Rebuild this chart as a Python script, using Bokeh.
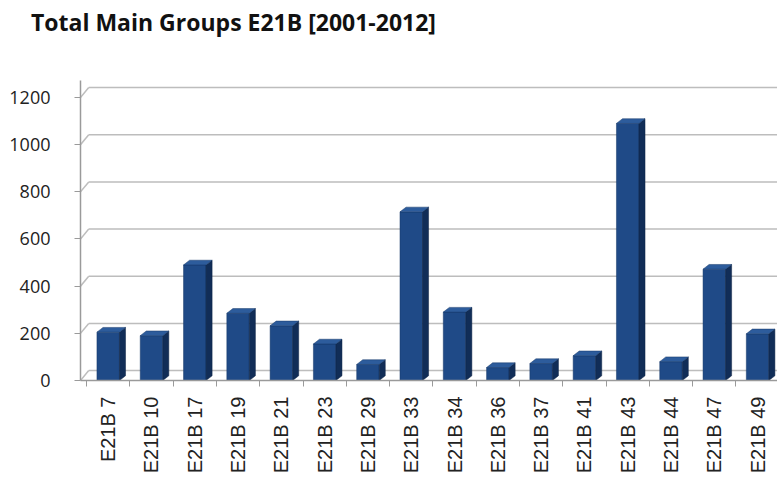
import numpy as np
from bokeh.plotting import figure
from bokeh.models import FixedTicker, Range1d, Div
from bokeh.layouts import column
from bokeh.embed import file_html
from bokeh.resources import INLINE

categories = ["E21B 7", "E21B 10", "E21B 17", "E21B 19", "E21B 21", "E21B 23",
              "E21B 29", "E21B 33", "E21B 34", "E21B 36", "E21B 37", "E21B 41",
              "E21B 43", "E21B 44", "E21B 47", "E21B 49"]
values = [205, 190, 490, 285, 232, 155, 68, 715, 290, 55, 72, 105, 1090, 80, 472, 198]
y_ticks = [0, 200, 400, 600, 800, 1000, 1200]
title_text = "Total Main Groups E21B [2001-2012]"

n = len(categories)
xs = np.arange(n)
vals = np.array(values, dtype=float)

# 3D look parameters (style only)
half_w = 0.26
dx = 0.14
dy = 20.0
wall_dx = 0.19
wall_dy = 42.0

x_start, x_end = -0.64, 15.46
y_end = 1272.0

title = Div(text=title_text, width=777, height=44, margin=(0, 0, 0, 0),
            styles={"font-family": "Open Sans", "font-weight": "bold", "font-size": "23px",
                    "color": "#111111", "line-height": "44px", "padding-left": "31px",
                    "white-space": "nowrap"})

p = figure(width=777, height=437, output_backend="svg", toolbar_location=None,
           x_range=Range1d(x_start, x_end), y_range=Range1d(0, y_end),
           min_border_left=80, min_border_right=0, min_border_top=36, min_border_bottom=101,
           margin=(0, 0, 0, 0))
p.outline_line_color = None
p.background_fill_color = "white"

# back wall gridlines with diagonal wall edge
yt = np.array(y_ticks, dtype=float)
grid_col = "#bdbdbd"
p.segment(x0=[x_start + wall_dx] * len(yt), y0=yt + wall_dy,
          x1=[x_end] * len(yt), y1=yt + wall_dy, line_color=grid_col, line_width=1.5)
p.segment(x0=[x_start] * len(yt), y0=yt,
          x1=[x_start + wall_dx] * len(yt), y1=yt + wall_dy, line_color=grid_col, line_width=1.5)

# front faces
p.vbar(x=xs, top=vals, bottom=0, width=2 * half_w, fill_color="#1f4a87",
       line_color="#163868", line_width=0.5)
# side faces
side_x = [[x + half_w, x + half_w + dx, x + half_w + dx, x + half_w] for x in xs]
side_y = [[0, dy, v + dy, v] for v in vals]
p.patches(side_x, side_y, fill_color="#112d57", line_color="#0d2345", line_width=0.5)
# top faces
top_x = [[x - half_w, x + half_w, x + half_w + dx, x - half_w + dx] for x in xs]
top_y = [[v, v, v + dy, v + dy] for v in vals]
p.patches(top_x, top_y, fill_color="#2d5c9c", line_color="#163868", line_width=0.5)

p.xgrid.grid_line_color = None
p.ygrid.grid_line_color = None

# y axis
p.yaxis.ticker = FixedTicker(ticks=y_ticks)
p.yaxis.axis_line_color = "#9a9a9a"
p.yaxis.axis_line_width = 1.5
p.yaxis.major_tick_line_color = "#9a9a9a"
p.yaxis.major_tick_out = 6
p.yaxis.major_tick_in = 0
p.yaxis.minor_tick_line_color = None
p.yaxis.major_label_text_font = "Open Sans"
p.yaxis.major_label_text_font_size = "18px"
p.yaxis.major_label_text_color = "#222222"
p.yaxis.major_label_standoff = 24

# x axis
p.xaxis.ticker = FixedTicker(ticks=list(xs), minor_ticks=list(np.arange(n + 1) - 0.5))
p.xaxis.major_label_overrides = {int(i): c for i, c in enumerate(categories)}
p.xaxis.major_label_orientation = np.pi / 2
p.xaxis.axis_line_color = "#9a9a9a"
p.xaxis.axis_line_width = 1.5
p.xaxis.major_tick_line_color = None
p.xaxis.minor_tick_line_color = "#9a9a9a"
p.xaxis.minor_tick_out = 6
p.xaxis.minor_tick_in = 0
p.xaxis.major_label_text_font = "Liberation Sans"
p.xaxis.major_label_text_font_size = "20px"
p.xaxis.major_label_text_color = "#222222"
p.xaxis.major_label_standoff = 10

layout = column(title, p, spacing=0, margin=(0, 0, 0, 0))
open("out.html", "w").write(file_html(layout, INLINE))
